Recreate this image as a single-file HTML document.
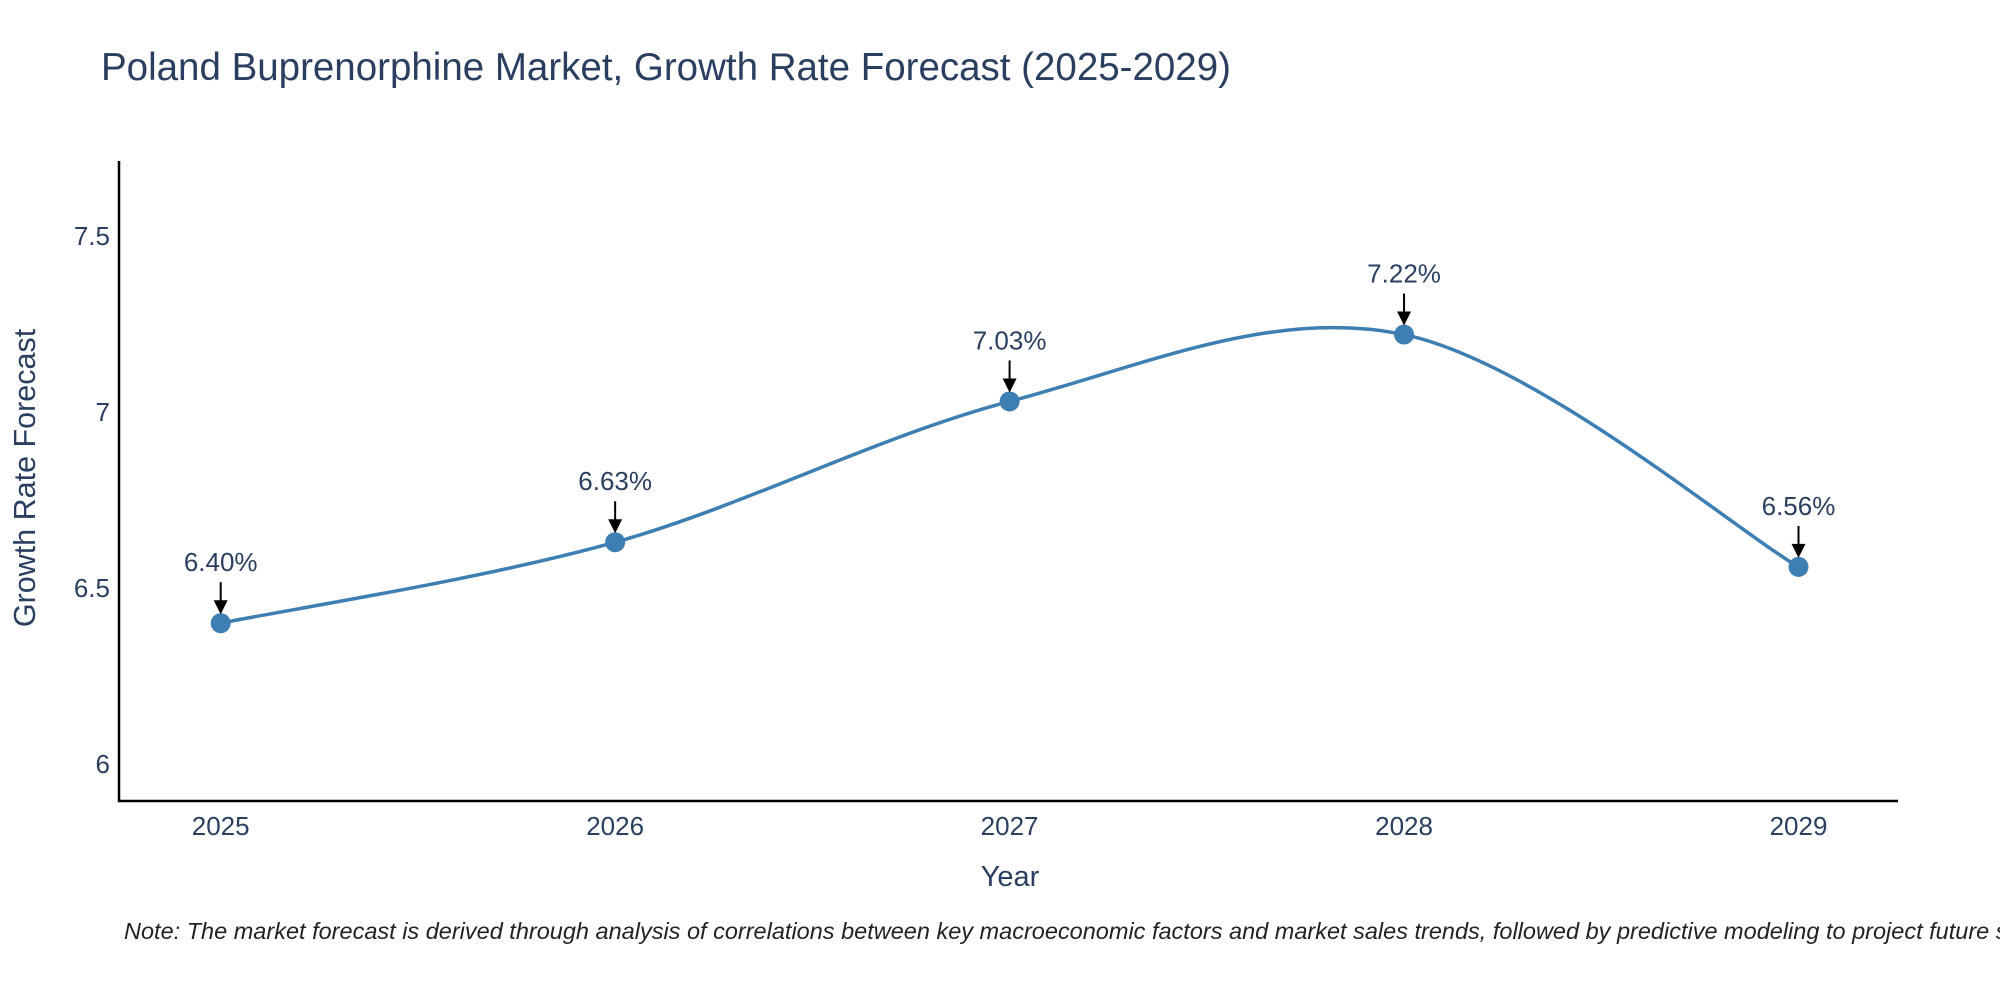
<!DOCTYPE html>
<html><head><meta charset="utf-8"><style>
body{margin:0;background:#fff;}
svg{display:block;font-family:"Liberation Sans",sans-serif;}
</style></head><body>
<svg id="chart" width="2000" height="1000" viewBox="0 0 2000 1000">
<text x="101" y="80" font-size="38.5" fill="#2a3f5f">Poland Buprenorphine Market, Growth Rate Forecast (2025-2029)</text>
<g id="axes"></g>
<g id="marks"></g>
<text x="1010" y="886" font-size="29" fill="#2a3f5f" text-anchor="middle">Year</text>
<text transform="translate(35,478) rotate(-90)" font-size="30.5" fill="#2a3f5f" text-anchor="middle">Growth Rate Forecast</text>
<text x="124" y="939" font-size="23.5" font-style="italic" fill="#222">Note: The market forecast is derived through analysis of correlations between key macroeconomic factors and market sales trends, followed by predictive modeling to project future sales.</text>
</svg>
<script>
const years = [2025, 2026, 2027, 2028, 2029];
const rates = [6.40, 6.63, 7.03, 7.22, 6.56];
const yTicks = [6, 6.5, 7, 7.5];
const yTickLabels = ["6", "6.5", "7", "7.5"];
const NS = "http://www.w3.org/2000/svg";
const xs = v => 220.7 + (v - 2025) * 394.45;
const ys = v => 412 - (v - 7) * 352;
function mk(tag, attrs, parent, txt) {
  const e = document.createElementNS(NS, tag);
  for (const k in attrs) e.setAttribute(k, attrs[k]);
  if (txt !== undefined) e.textContent = txt;
  parent.appendChild(e); return e;
}
const axes = document.getElementById('axes');
const marks = document.getElementById('marks');
let a = mk('line', {x1:119, y1:161, x2:119, y2:802, stroke:'#000', 'stroke-width':2.5}, axes);


a = mk('line', {x1:118, y1:801, x2:1898, y2:801, stroke:'#000', 'stroke-width':2.5}, axes);


yTicks.forEach((t, i) => {
  const e = mk('text', {x:110, y:ys(t) + 9, 'font-size':26, fill:'#2a3f5f', 'text-anchor':'end'}, axes, yTickLabels[i]);
  
  
});
years.forEach(y => {
  const e = mk('text', {x:xs(y), y:835, 'font-size':26, fill:'#2a3f5f', 'text-anchor':'middle'}, axes, String(y));
  
  
});
const pts = years.map((y, i) => [xs(y), ys(rates[i])]);
let d = `M${pts[0][0]},${pts[0][1]}`;
for (let i = 0; i < pts.length - 1; i++) {
  const p0 = pts[i - 1] || pts[i], p1 = pts[i], p2 = pts[i + 1], p3 = pts[i + 2] || pts[i + 1];
  const c1 = [p1[0] + (p2[0] - p0[0]) / 6, p1[1] + (p2[1] - p0[1]) / 6];
  const c2 = [p2[0] - (p3[0] - p1[0]) / 6, p2[1] - (p3[1] - p1[1]) / 6];
  d += ` C${c1[0]},${c1[1]} ${c2[0]},${c2[1]} ${p2[0]},${p2[1]}`;
}
const line = mk('path', {d:d, fill:'none', stroke:'#3d7fb3', 'stroke-width':3.5}, marks);


pts.forEach((p, i) => {
  const c = mk('circle', {cx:p[0], cy:p[1], r:10, fill:'#3d7fb3'}, marks);
  
  
  const l = mk('line', {x1:p[0], y1:p[1] - 41, x2:p[0], y2:p[1] - 22, stroke:'#000', 'stroke-width':2}, marks);
  
  
  const h = mk('path', {d:`M${p[0]-7},${p[1]-23} L${p[0]+7},${p[1]-23} L${p[0]},${p[1]-9} Z`, fill:'#000'}, marks);
  
  
  const t = mk('text', {x:p[0], y:p[1] - 52, 'font-size':26, fill:'#2a3f5f', 'text-anchor':'middle'}, marks, rates[i].toFixed(2) + '%');
  
  
});
</script>
</body></html>
